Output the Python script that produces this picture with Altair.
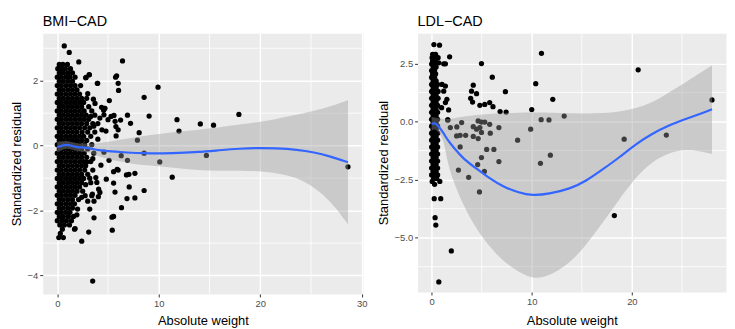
import altair as alt
import pandas as pd

FONT = "Liberation Sans"

# ---------------- BMI-CAD panel ----------------
# scattered points (x = absolute weight, y = standardized residual)
bmi_x = [0.69, 1.18, 2.12, 6.43, 5.75, 5.85, 6.0, 6.04, 3.95, 3.14, 2.8, 9.93, 8.56, 9.05, 5.13,
         4.64, 4.57, 5.59, 6.92, 7.22, 6.24, 5.78, 11.8, 12.0, 14.1, 15.4, 17.9, 8.07, 7.9, 8.56,
         10.1, 14.7, 28.65, 6.92, 6.3, 11.33, 7.65, 6.82, 5.9, 5.55, 6.0, 7.06, 8.56, 7.65, 6.87,
         7.09, 5.69, 4.83, 5.55, 6.33, 5.55, 5.39, 5.42, 3.62, 3.1, 2.41, 3.49, 3.0, 3.62, 4.05,
         3.4, 4.08, 4.2, 3.9, 3.8, 2.84, 3.17, 3.98, 3.56, 3.72, 4.37, 4.7, 4.2, 4.6, 5.0,
         5.3, 5.7, 4.4, 4.8, 5.8, 6.0, 2.4, 2.75, 3.46, 4.0, 3.6, 3.3, 3.0, 2.9, 3.5,
         4.3, 3.2, 2.8, 4.6, 5.1, 1.93, 2.0, 1.76, 3.2]
bmi_y = [3.07, 2.87, 2.58, 2.61, 2.11, 2.15, 1.92, 1.70, 1.92, 2.19, 2.09, 1.80, 1.49, 0.91, 1.39,
         1.15, 1.09, 0.93, 0.94, 0.69, 0.79, 0.59, 0.80, 0.45, 0.67, 0.63, 0.96, 0.40, 0.17, -0.23,
         -0.50, -0.30, -0.65, -0.45, -0.31, -0.97, -0.85, -0.90, -0.73, -0.80, -0.75, -0.88, -1.38, -1.61, -1.63,
         -1.27, -1.43, -1.03, -1.15, -1.91, -2.18, -2.20, -2.60, -2.22, -2.66, -2.94, -4.17, -1.71, -1.71, -1.57,
         -1.54, -1.34, -1.44, -1.13, -0.98, 2.10, 2.18, 1.92, 1.43, 1.30, 1.18, 1.15, 0.85, 0.95, 0.80,
         0.90, 0.75, 0.49, 0.45, 0.30, 0.49, -1.59, -1.54, -1.49, 0.20, 0.60, 0.90, 1.60, -0.50, -0.40,
         -0.60, -1.00, -1.20, -0.20, -0.45, -2.13, -1.95, -2.55, -1.95]
# dense cluster near zero weight, row by row: (residual, [weights])
bmi_cluster = [
    (2.50, [0.2, 0.55, 1.0]),
    (2.37, [0.05, 0.4, 0.8, 1.3]),
    (2.24, [0.2, 0.6, 1.05, 1.5]),
    (2.11, [0.0, 0.4, 0.85, 1.25, 1.75]),
    (1.98, [0.2, 0.6, 1.05, 1.5]),
    (1.85, [0.0, 0.4, 0.85, 1.3, 1.75, 2.3]),
    (1.72, [0.2, 0.6, 1.05, 1.5, 1.95]),
    (1.59, [0.0, 0.4, 0.85, 1.3, 1.75, 2.2]),
    (1.46, [0.2, 0.6, 1.05, 1.5, 1.95, 2.4, 2.9]),
    (1.33, [0.0, 0.4, 0.85, 1.3, 1.75, 2.2, 2.6]),
    (1.20, [0.2, 0.6, 1.05, 1.5, 1.95, 2.4, 3.1]),
    (1.07, [0.0, 0.4, 0.85, 1.3, 1.75, 2.2, 2.65, 3.4]),
    (0.94, [0.2, 0.6, 1.05, 1.5, 1.95, 2.4, 2.85, 3.7]),
    (0.81, [0.0, 0.4, 0.85, 1.3, 1.75, 2.2, 2.65, 3.1]),
    (0.68, [0.2, 0.6, 1.05, 1.5, 1.95, 2.4, 2.9, 3.5, 4.0]),
    (0.55, [0.0, 0.4, 0.85, 1.3, 1.75, 2.2, 2.7, 3.2]),
    (0.42, [0.2, 0.6, 1.05, 1.5, 1.95, 2.45, 3.0, 3.7]),
    (0.29, [0.0, 0.4, 0.85, 1.3, 1.75, 2.2, 2.6, 3.3]),
    (0.16, [0.2, 0.6, 1.05, 1.5, 1.95, 2.4, 2.9]),
    (0.03, [0.0, 0.4, 0.85, 1.3, 1.75, 2.2, 2.7, 3.4]),
    (-0.10, [0.2, 0.6, 1.05, 1.5, 1.95, 2.4, 3.0]),
    (-0.23, [0.0, 0.4, 0.85, 1.3, 1.75, 2.2, 2.65, 3.6]),
    (-0.36, [0.2, 0.6, 1.05, 1.5, 1.95, 2.4, 2.9]),
    (-0.49, [0.0, 0.4, 0.85, 1.3, 1.75, 2.2, 2.6, 3.3]),
    (-0.62, [0.2, 0.6, 1.05, 1.5, 1.95, 2.4, 2.8]),
    (-0.75, [0.0, 0.4, 0.85, 1.3, 1.75, 2.2, 2.7, 3.5]),
    (-0.88, [0.2, 0.6, 1.05, 1.5, 1.95, 2.4, 3.0]),
    (-1.01, [0.0, 0.4, 0.85, 1.3, 1.75, 2.2, 2.6]),
    (-1.14, [0.2, 0.6, 1.05, 1.5, 1.95, 2.4, 3.3]),
    (-1.27, [0.0, 0.4, 0.85, 1.3, 1.75, 2.2]),
    (-1.40, [0.2, 0.6, 1.05, 1.5, 1.95, 2.5]),
    (-1.53, [0.0, 0.4, 0.85, 1.3, 1.75]),
    (-1.66, [0.2, 0.6, 1.05, 1.5, 2.1]),
    (-1.79, [0.0, 0.4, 0.85, 1.3, 1.7]),
    (-1.92, [0.2, 0.6, 1.05, 1.5]),
    (-2.05, [0.0, 0.4, 0.85, 1.25]),
    (-2.18, [0.2, 0.6, 1.1, 1.6]),
    (-2.31, [0.0, 0.45, 0.9, 1.4]),
    (-2.44, [0.25, 0.7, 1.2]),
    (-2.57, [0.5, 1.7]),
    (-2.70, [0.3]),
    (-2.83, [0.15, 0.6]),
]
# smooth fit and confidence band
bmi_fit_x = [0, 0.5, 0.9, 1.5, 2.1, 2.75, 3.5, 4.05, 5, 6, 7.3, 8.5, 9.93, 12, 13.85, 16, 18,
             19.7, 21.5, 23.66, 25.3, 26.9, 28.65]
bmi_fit = [-0.04, 0.0, 0.04, -0.01, -0.06, -0.05, -0.10, -0.14, -0.17, -0.19, -0.22, -0.23, -0.24,
           -0.22, -0.20, -0.14, -0.09, -0.07, -0.08, -0.12, -0.20, -0.33, -0.51]
bmi_hi = [0.12, 0.13, 0.16, 0.10, 0.06, 0.07, 0.06, 0.08, 0.12, 0.17, 0.24, 0.30, 0.36, 0.43, 0.49,
          0.57, 0.65, 0.72, 0.82, 0.95, 1.07, 1.20, 1.40]
bmi_lo = [-0.20, -0.13, -0.08, -0.12, -0.18, -0.18, -0.26, -0.33, -0.41, -0.48, -0.55, -0.60, -0.63,
          -0.70, -0.76, -0.77, -0.77, -0.78, -0.83, -0.98, -1.28, -1.69, -2.42]

# ---------------- LDL-CAD panel ----------------
ldl_x = [0.23, 0.79, 1.8, 4.98, 6.06, 4.16, 4.49, 3.99, 3.9, 4.09, 4.82, 5.31, 5.8, 6.13, 6.84,
         7.44, 7.37, 10.4, 10.97, 10.0, 12.1, 13.24, 10.94, 11.72, 20.63, 28.0, 19.23, 23.44, 11.86,
         10.87, 18.25, 9.89, 8.59, 1.63, 3.0, 2.52, 1.87, 2.85, 3.4, 2.5, 4.16, 4.49, 4.82, 4.98,
         5.31, 4.65, 5.8, 5.86, 6.72, 4.16, 4.65, 4.98, 2.85, 5.5, 6.22, 4.98, 4.6, 6.72, 2.68,
         3.7, 5.27, 4.78, 0.26, 0.91, 0.35, 0.42, 1.97, 0.72, 0.72, 1.21, 1.38, 1.04, 1.38, 1.21,
         1.53, 1.38, 1.0, 1.7, 1.6]
ldl_y = [3.32, 3.29, 2.79, 2.50, 1.91, 1.57, 1.20, 1.31, 1.00, 0.84, 0.70, 0.74, 0.82, 0.64, 0.43,
         0.41, 1.29, 1.63, 2.94, 0.52, 0.96, 0.24, 0.08, 0.07, 2.23, 0.93, -0.76, -0.58, -1.45,
         -1.80, -4.05, -0.33, -0.80, 0.07, -0.04, -0.23, -0.26, -0.59, -0.59, -0.62, -0.22, -0.33, -0.26, -0.02,
         -0.02, 0.03, -0.12, -0.50, -0.26, -0.64, -0.73, -0.47, -1.09, -1.20, -1.20, -1.55, -1.85, -1.72, -2.09,
         -2.40, -2.15, -3.03, -3.32, -3.32, -4.14, -4.46, -5.57, -6.91, 2.53, 2.49, 2.49, 1.60, 1.53, 1.31,
         0.96, 0.82, 0.60, 0.50, 0.07]
ldl_cluster = [
    (2.90, [0.1, 0.4]),
    (2.75, [0.05, 0.35, 0.65]),
    (2.60, [0.1, 0.4]),
    (2.48, [0.0, 0.3]),
    (2.35, [0.15, 0.45]),
    (2.20, [0.0, 0.3]),
    (2.05, [0.1, 0.4]),
    (1.90, [0.0, 0.3]),
    (1.75, [0.15, 0.45]),
    (1.60, [0.0, 0.3, 0.6]),
    (1.45, [0.15, 0.45]),
    (1.30, [0.0, 0.3, 0.65]),
    (1.15, [0.15, 0.45]),
    (1.00, [0.0, 0.3, 0.65]),
    (0.85, [0.15, 0.45]),
    (0.70, [0.0, 0.3, 0.6]),
    (0.55, [0.15, 0.45]),
    (0.40, [0.0, 0.3, 0.6]),
    (0.25, [0.15, 0.45]),
    (0.10, [0.0, 0.3, 0.6]),
    (-0.05, [0.15, 0.45]),
    (-0.20, [0.0, 0.3, 0.6]),
    (-0.35, [0.15, 0.45]),
    (-0.50, [0.0, 0.3, 0.6]),
    (-0.65, [0.15, 0.45]),
    (-0.80, [0.0, 0.3, 0.6]),
    (-0.95, [0.15, 0.45]),
    (-1.10, [0.0, 0.3, 0.6]),
    (-1.25, [0.15, 0.45]),
    (-1.40, [0.0, 0.3, 0.6]),
    (-1.55, [0.15, 0.45]),
    (-1.70, [0.0, 0.3, 0.6]),
    (-1.85, [0.15, 0.45]),
    (-2.00, [0.0, 0.3, 0.6]),
    (-2.15, [0.15, 0.45]),
    (-2.30, [0.0, 0.3, 0.6]),
    (-2.45, [0.2, 0.5]),
    (-2.58, [0.06, 0.82]),
    (-2.70, [0.3]),
]
ldl_fit_x = [0, 0.3, 0.7, 1.2, 1.6, 2.2, 3.2, 4.5, 5.8, 7.1, 8.75, 10.06, 11.7, 13.83, 15.47, 17.11,
             18.74, 20.38, 22.03, 23.66, 25.3, 26.94, 28.0]
ldl_fit = [-0.10, -0.04, -0.20, -0.50, -0.80, -1.12, -1.62, -2.03, -2.45, -2.80, -3.07, -3.19, -3.12,
           -2.90, -2.55, -2.05, -1.55, -0.97, -0.52, -0.17, 0.10, 0.35, 0.53]
ldl_hi = [0.20, 0.18, 0.14, 0.10, 0.10, 0.14, 0.22, 0.28, 0.33, 0.36, 0.38, 0.39, 0.38, 0.36, 0.34,
          0.36, 0.42, 0.57, 0.81, 1.24, 1.67, 2.13, 2.42]
ldl_lo = [-0.40, -0.30, -0.45, -0.76, -1.80, -2.60, -3.65, -4.65, -5.40, -6.00, -6.50, -6.78, -6.68,
          -6.10, -5.30, -4.35, -3.35, -2.40, -1.72, -1.35, -1.20, -1.28, -1.40]


def points_frame(xs, ys, rows):
    px, py = list(xs), list(ys)
    for yv, xr in rows:
        for xv in xr:
            px.append(xv)
            py.append(yv)
    return pd.DataFrame({"x": px, "y": py})


def panel(title, pts, fx, fit, lo, hi, xdom, ydom, xticks, yticks, xminor, yminor,
          yfmt, w, h, xtitle_pad):
    xs = alt.Scale(domain=xdom, nice=False, zero=False)
    ys = alt.Scale(domain=ydom, nice=False, zero=False)
    xaxis = alt.Axis(values=xticks, format="d", titlePadding=xtitle_pad)
    yaxis = alt.Axis(values=yticks, format=yfmt)
    XT = "Absolute weight"
    YT = "Standardized residual"

    vgrid = alt.Chart(pd.DataFrame({"x": xminor})).mark_rule(
        color="white", strokeWidth=0.8
    ).encode(x=alt.X("x:Q", scale=xs, axis=xaxis, title=XT))
    hgrid = alt.Chart(pd.DataFrame({"y": yminor})).mark_rule(
        color="white", strokeWidth=0.8
    ).encode(y=alt.Y("y:Q", scale=ys, axis=yaxis, title=YT))
    dots = alt.Chart(pts).mark_circle(size=28, color="black", opacity=1).encode(
        x=alt.X("x:Q", scale=xs, title=XT),
        y=alt.Y("y:Q", scale=ys, title=YT),
    )
    bdf = pd.DataFrame({"x": fx, "fit": fit, "lo": lo, "hi": hi})
    band = alt.Chart(bdf).mark_area(color="#999999", opacity=0.4,
                                    interpolate="basis").encode(
        x=alt.X("x:Q", scale=xs, title=XT),
        y=alt.Y("lo:Q", scale=ys, title=YT),
        y2="hi:Q",
    )
    line = alt.Chart(bdf).mark_line(color="#3366FF", strokeWidth=2.2,
                                    interpolate="basis").encode(
        x=alt.X("x:Q", scale=xs, title=XT),
        y=alt.Y("fit:Q", scale=ys, title=YT),
    )
    return alt.layer(vgrid, hgrid, dots, band, line).properties(
        width=w, height=h,
        title=alt.TitleParams(title, anchor="start", frame="group", fontSize=14.5,
                              font=FONT, fontWeight="normal", color="black", offset=3),
    )


left = panel(
    "BMI−CAD", points_frame(bmi_x, bmi_y, bmi_cluster),
    bmi_fit_x, bmi_fit, bmi_lo, bmi_hi,
    [-1.435, 30.135], [-4.565, 3.465], [0, 10, 20, 30], [-4, -2, 0, 2],
    [5, 15, 25], [-3, -1, 1, 3], "d", 323, 263, 6,
)
right = panel(
    "LDL−CAD", points_frame(ldl_x, ldl_y, ldl_cluster),
    ldl_fit_x, ldl_fit, ldl_lo, ldl_hi,
    [-1.4, 29.4], [-7.34, 3.81], [0, 10, 20], [-5, -2.5, 0, 2.5],
    [5, 15, 25], [-6.25, -3.75, -1.25, 1.25], ".1f", 311, 261, 8,
)

chart = alt.hconcat(left, right, spacing=8).properties(
    padding={"left": 1, "top": 4, "right": 0, "bottom": 0},
    background="white",
).configure_view(
    fill="#EBEBEB", stroke="transparent"
).configure_axis(
    grid=True, gridColor="white", gridWidth=1.5,
    domain=False, tickColor="#333333", tickSize=3, tickWidth=1,
    labelColor="#4D4D4D", labelFontSize=9.5, labelFont=FONT, labelPadding=2,
    titleFont=FONT, titleFontSize=13, titleFontWeight="normal", titleColor="black",
    titlePadding=4,
)

chart.save("out.html", embed_options={"renderer": "svg", "actions": False})
